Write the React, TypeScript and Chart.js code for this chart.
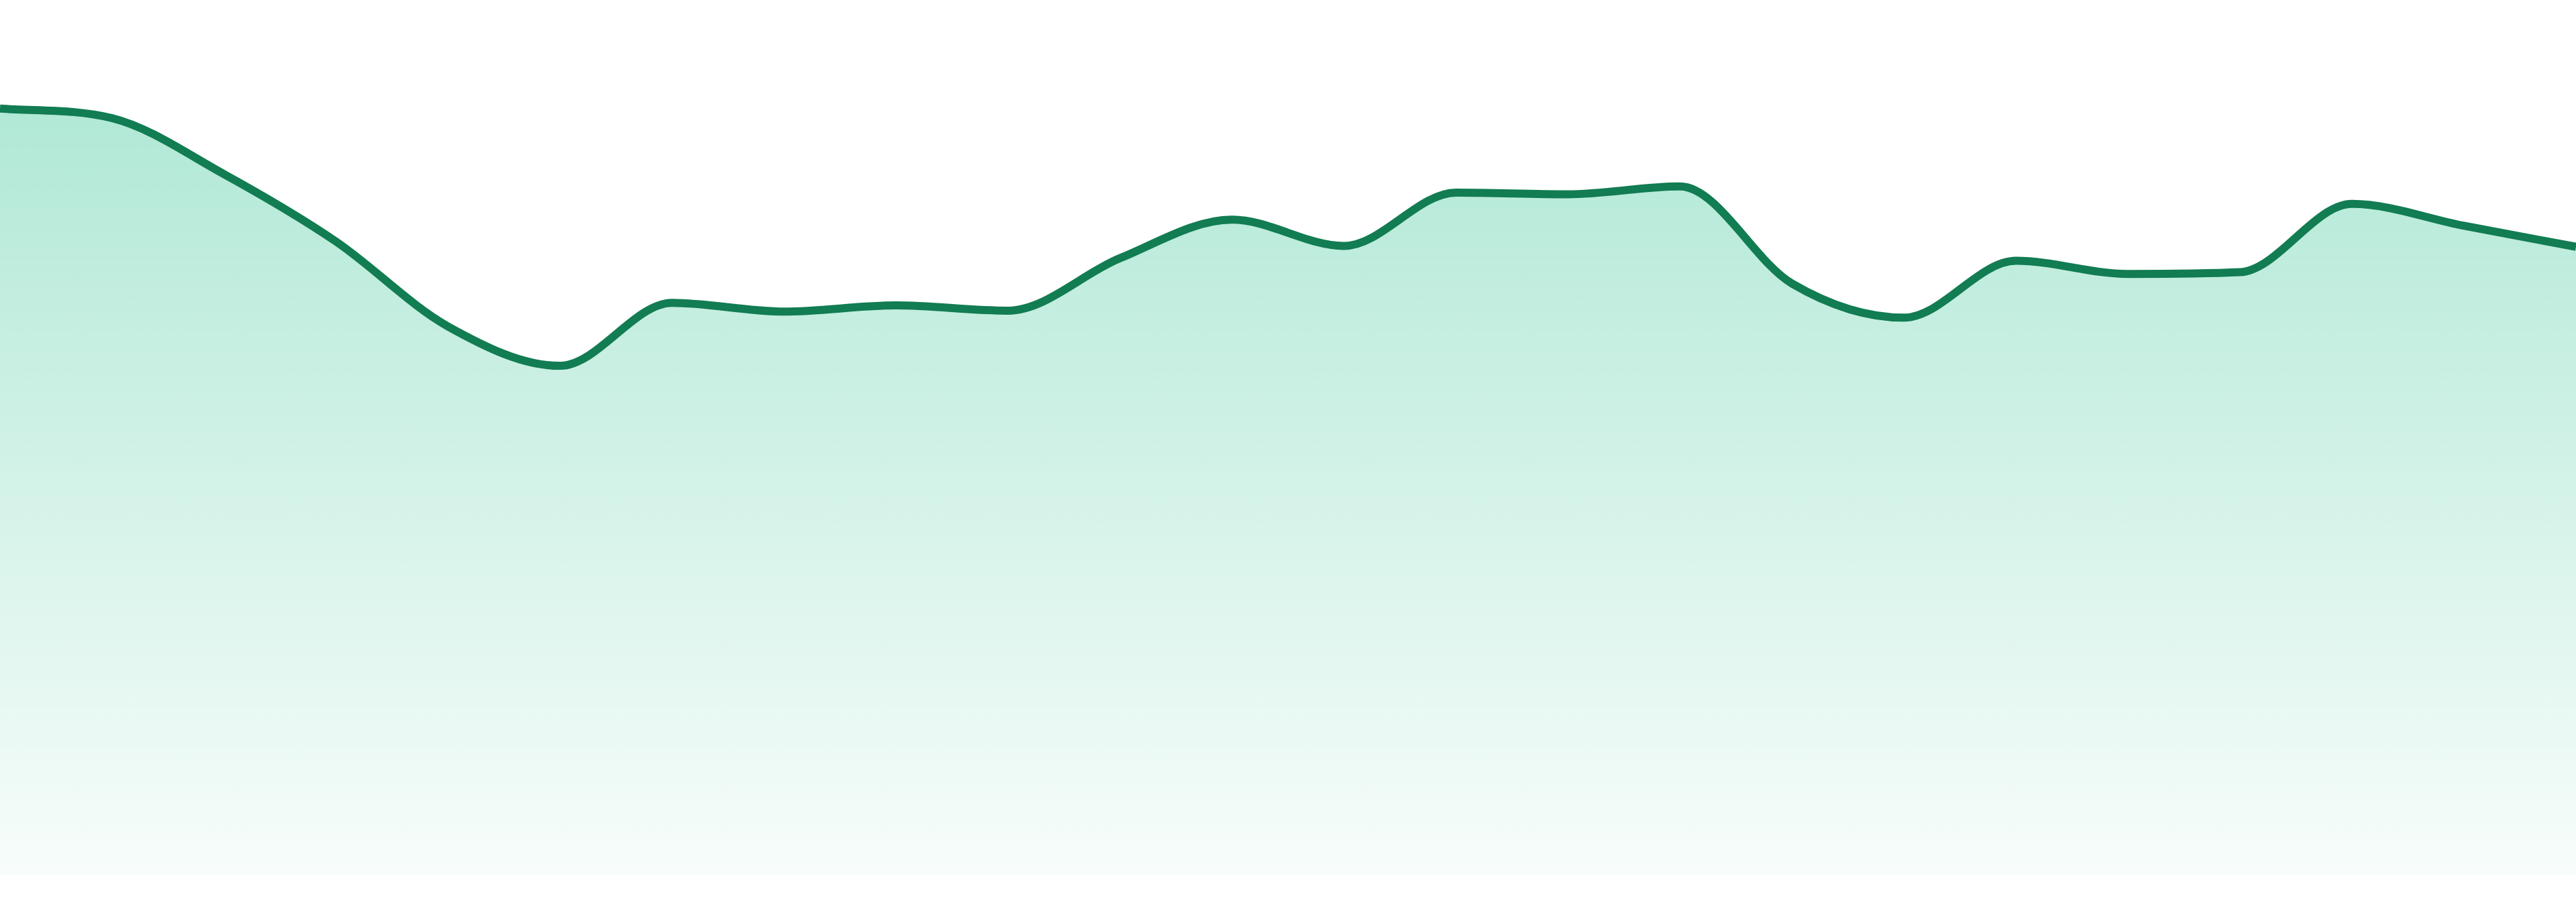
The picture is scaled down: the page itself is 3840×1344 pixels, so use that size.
import { useEffect, useRef } from 'react'
import { Chart, registerables, ScriptableContext } from 'chart.js'

Chart.register(...registerables)

const hours = [
  '00:00', '01:00', '02:00', '03:00', '04:00', '05:00', '06:00', '07:00',
  '08:00', '09:00', '10:00', '11:00', '12:00', '13:00', '14:00', '15:00',
  '16:00', '17:00', '18:00', '19:00', '20:00', '21:00', '22:00', '23:00',
]

const values = [
  87.6, 86.5, 80.1, 72.4, 62.7, 58.2, 65.4, 64.4,
  65.1, 64.5, 70.5, 74.9, 71.9, 78.0, 77.8, 78.7,
  67.6, 63.7, 70.2, 68.7, 68.9, 76.7, 74.2, 71.8,
]

const yRange = [0, 100]

const LINE = '#127c52'

const AreaChart = () => {
  const chartRef = useRef<HTMLCanvasElement | null>(null)

  useEffect(() => {
    document.body.style.margin = '0'
    let chartInstance: Chart<'line', number[], string> | null = null
    if (chartRef.current) {
      chartInstance = new Chart(chartRef.current, {
        type: 'line',
        data: {
          labels: hours,
          datasets: [
            {
              data: values,
              borderColor: LINE,
              borderWidth: 12,
              pointRadius: 0,
              cubicInterpolationMode: 'monotone',
              fill: 'origin',
              backgroundColor: (ctx: ScriptableContext<'line'>) => {
                const { chart } = ctx
                const area = chart.chartArea
                if (!area) return 'rgba(16, 185, 129, 0.2)'
                // fades from a light mint under the line to almost white
                const g = chart.ctx.createLinearGradient(0, area.top, 0, area.bottom)
                g.addColorStop(0, 'rgba(16, 185, 129, 0.37)')
                g.addColorStop(1, 'rgba(16, 185, 129, 0.03)')
                return g
              },
            },
          ],
        },
        options: {
          animation: false,
          responsive: true,
          maintainAspectRatio: false,
          layout: { padding: { top: 0, left: 0, right: 0, bottom: 40 } },
          plugins: {
            legend: { display: false },
            tooltip: { enabled: false },
          },
          scales: {
            x: { display: false },
            y: { display: false, min: yRange[0], max: yRange[1] },
          },
        },
      })
    }

    return () => {
      if (chartInstance) {
        chartInstance.destroy()
      }
    }
  }, [])

  return (
    <div style={{ position: 'relative', width: '100%', height: '1344px' }}>
      <canvas ref={chartRef} />
    </div>
  )
}

export default function App() {
  return <AreaChart />
}
